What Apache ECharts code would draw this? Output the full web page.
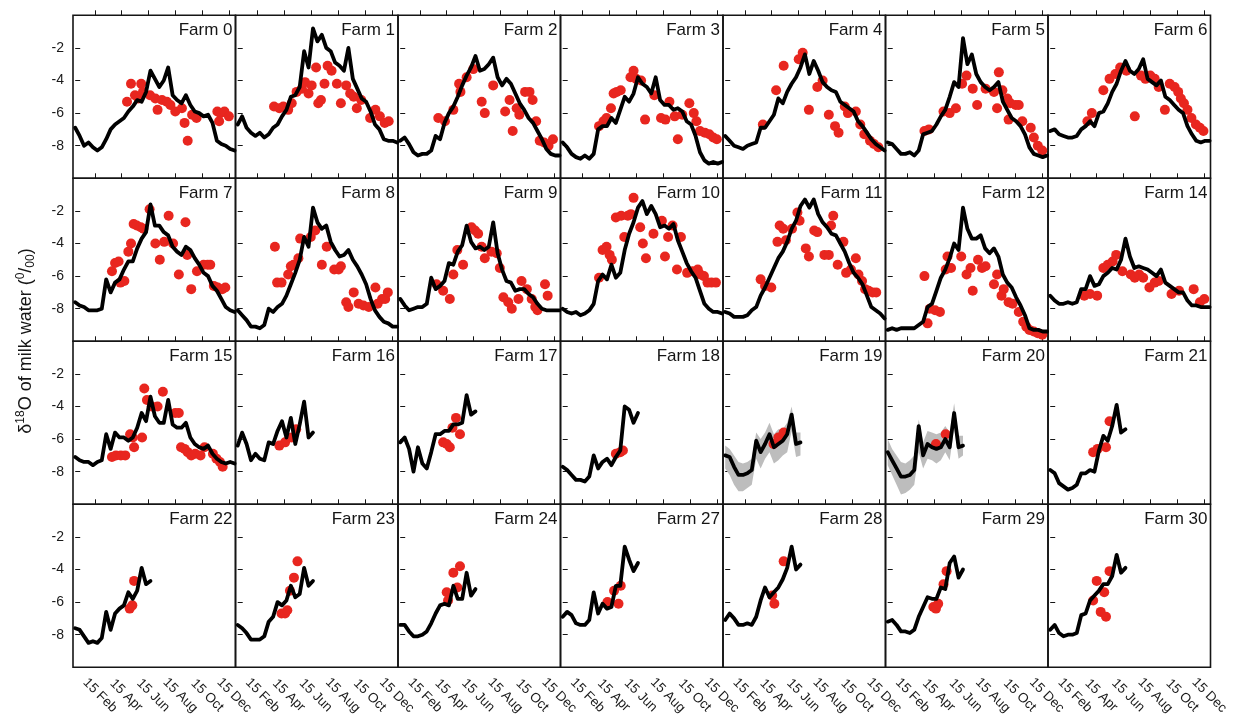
<!DOCTYPE html>
<html>
<head>
<meta charset="utf-8">
<script src="https://cdn.jsdelivr.net/npm/echarts@6/dist/echarts.min.js"></script>
<style>html,body{margin:0;padding:0;background:#fff}#chart{width:1234px;height:722px}</style>
</head>
<body>
<div id="chart"></div>
<script>
// Sample days (days since 1 Jan) of the modelled milk-water series
const lineDays = [0,10,20,30,40,50,60,70,80,90,100,110,120,130,140,150,160,170,180,190,200,210,220,230,240,250,260,270,280,290,300,310,320,330,340,350,360];
const tickDays = [45,104,165,226,287,348];
const tickLabels = ['15 Feb','15 Apr','15 Jun','15 Aug','15 Oct','15 Dec'];
const yTicks = [-8,-6,-4,-2];
const farmNames = ['Farm 0','Farm 1','Farm 2','Farm 3','Farm 4','Farm 5','Farm 6',
  'Farm 7','Farm 8','Farm 9','Farm 10','Farm 11','Farm 12','Farm 14',
  'Farm 15','Farm 16','Farm 17','Farm 18','Farm 19','Farm 20','Farm 21',
  'Farm 22','Farm 23','Farm 24','Farm 27','Farm 28','Farm 29','Farm 30'];

// modelled δ18O (black lines), values on lineDays
const f0Line = [-6.9,-7.4,-8.0,-7.8,-8.1,-8.3,-8.1,-7.6,-7.0,-6.7,-6.5,-6.3,-5.9,-5.6,-5.2,-5.3,-4.7,-3.4,-3.9,-4.4,-4.0,-3.2,-4.9,-5.2,-5.4,-4.9,-5.5,-5.9,-6.0,-6.2,-6.1,-6.6,-7.7,-7.9,-8.0,-8.2,-8.3];
const f1Line = [-6.7,-6.2,-6.9,-7.2,-7.4,-7.2,-7.5,-7.3,-6.9,-6.7,-6.2,-5.8,-5.0,-4.9,-4.4,-2.2,-3.2,-0.8,-1.6,-1.2,-2.0,-2.2,-2.9,-3.1,-3.4,-2.0,-3.9,-4.5,-5.1,-5.3,-5.9,-6.7,-7.0,-7.6,-7.7,-7.7,-7.8];
const f2Line = [-7.7,-7.5,-7.9,-8.4,-8.6,-8.5,-8.5,-8.3,-7.4,-7.6,-6.6,-6.0,-5.6,-5.0,-4.3,-3.7,-3.2,-2.5,-3.4,-3.3,-3.0,-2.6,-3.8,-4.3,-3.9,-4.2,-4.8,-5.4,-5.8,-6.3,-6.6,-7.1,-7.6,-8.2,-8.5,-8.6,-8.6];
const f3Line = [-7.8,-8.1,-8.5,-8.7,-8.8,-8.6,-8.8,-8.5,-7.0,-6.8,-6.8,-6.3,-6.6,-5.8,-5.0,-5.3,-4.8,-3.8,-4.2,-4.4,-4.8,-3.8,-5.2,-5.5,-5.5,-5.8,-5.7,-5.9,-6.5,-6.7,-7.4,-8.4,-8.9,-9.1,-9.0,-9.1,-9.0];
const f4Line = [-7.4,-7.7,-8.0,-8.1,-8.2,-8.0,-7.9,-7.8,-6.9,-6.9,-6.5,-6.1,-5.1,-5.4,-4.7,-4.2,-3.8,-3.2,-2.4,-3.6,-2.8,-3.4,-4.1,-4.4,-4.6,-4.7,-5.3,-5.5,-5.7,-5.9,-6.5,-6.8,-7.2,-7.6,-7.9,-8.1,-8.3];
const f5Line = [-7.8,-7.9,-8.2,-8.5,-8.5,-8.4,-8.6,-8.3,-7.3,-7.2,-7.1,-6.7,-6.2,-5.8,-5.0,-4.1,-4.4,-1.4,-3.0,-2.4,-3.6,-4.1,-4.4,-4.6,-4.4,-4.1,-5.3,-5.8,-6.3,-6.5,-6.8,-7.3,-8.1,-8.5,-8.6,-8.7,-8.6];
const f6Line = [-7.1,-7.0,-7.3,-7.4,-7.5,-7.5,-7.4,-7.0,-6.8,-6.5,-6.8,-6.0,-5.9,-5.4,-4.7,-4.2,-3.4,-2.8,-3.4,-3.6,-3.3,-2.7,-3.9,-4.1,-4.3,-4.0,-5.0,-5.2,-5.5,-5.8,-6.0,-6.8,-7.3,-7.7,-7.8,-7.7,-7.7];
const f7Line = [-7.6,-7.8,-7.9,-8.1,-8.1,-8.1,-8.0,-6.2,-7.0,-6.4,-6.2,-5.6,-5.1,-5.1,-4.3,-3.7,-3.3,-1.6,-2.9,-2.9,-3.3,-3.5,-4.2,-4.5,-4.7,-4.2,-4.4,-4.9,-5.3,-5.8,-6.0,-6.6,-6.9,-7.4,-7.9,-8.1,-8.2];
const f8Line = [-8.1,-8.4,-8.7,-9.1,-9.1,-9.2,-9.0,-8.0,-8.2,-7.9,-7.7,-7.2,-6.5,-5.8,-5.0,-3.6,-4.2,-1.8,-2.7,-3.1,-2.9,-3.9,-4.4,-4.8,-4.7,-4.4,-5.0,-5.4,-5.9,-6.5,-7.4,-8.1,-8.5,-8.8,-8.9,-9.1,-9.1];
const f9Line = [-7.4,-7.8,-8.1,-8.0,-7.9,-7.9,-7.7,-6.1,-6.8,-6.6,-6.3,-5.2,-5.3,-4.5,-4.1,-2.9,-3.9,-4.3,-4.2,-4.4,-4.2,-2.7,-4.6,-5.6,-6.3,-6.4,-6.9,-6.8,-6.8,-7.1,-7.3,-7.7,-8.0,-8.1,-8.1,-8.1,-8.1];
const f10Line = [-8.0,-8.2,-8.3,-8.2,-8.4,-8.3,-8.1,-7.7,-6.3,-5.9,-6.2,-5.3,-6.1,-5.8,-4.4,-3.4,-2.7,-1.8,-1.4,-2.2,-1.7,-2.2,-3.0,-2.9,-3.1,-2.8,-3.8,-4.5,-5.2,-5.7,-6.1,-6.9,-7.7,-8.0,-8.2,-8.2,-8.3];
const f11Line = [-8.2,-8.3,-8.5,-8.5,-8.5,-8.4,-8.1,-7.9,-7.2,-6.7,-6.1,-5.5,-4.9,-4.5,-3.9,-3.1,-2.6,-1.7,-1.3,-1.8,-1.3,-2.2,-2.7,-3.0,-3.4,-3.5,-4.0,-4.5,-5.2,-5.8,-6.1,-6.5,-7.2,-7.9,-8.1,-8.3,-8.6];
const f12Line = [-9.3,-9.2,-9.3,-9.2,-9.2,-9.2,-9.2,-9.0,-8.8,-7.9,-7.7,-6.9,-6.1,-5.6,-4.9,-4.0,-4.4,-1.8,-3.1,-3.7,-3.7,-3.5,-4.3,-4.6,-4.3,-4.8,-5.9,-6.4,-6.7,-7.3,-7.8,-8.4,-9.2,-9.3,-9.3,-9.4,-9.4];
const f14Line = [-7.2,-7.5,-7.7,-7.7,-7.6,-7.7,-7.6,-6.8,-6.8,-6.0,-6.6,-6.5,-6.0,-5.8,-5.5,-5.6,-5.0,-3.7,-4.8,-5.5,-5.4,-5.5,-5.6,-5.8,-6.0,-5.6,-6.4,-6.6,-6.8,-7.0,-7.0,-7.5,-7.8,-7.8,-7.9,-7.9,-7.9];
const f15Line = [-7.1,-7.3,-7.4,-7.4,-7.6,-7.4,-7.3,-5.7,-6.6,-5.6,-5.9,-5.9,-6.1,-5.9,-5.3,-4.4,-4.9,-3.4,-4.6,-5.0,-5.0,-3.6,-5.1,-5.3,-5.3,-5.0,-5.9,-6.3,-6.5,-6.6,-6.4,-6.9,-7.2,-7.4,-7.5,-7.4,-7.5];
const f16Line = [-6.4,-5.6,-6.3,-7.3,-6.9,-7.2,-7.3,-6.2,-6.3,-5.5,-4.9,-5.9,-4.7,-6.3,-5.1,-3.7,-5.9,-5.6];
const f17Line = [-6.2,-5.9,-6.6,-8.0,-6.5,-7.5,-7.8,-6.8,-5.7,-5.7,-5.5,-5.5,-5.1,-5.1,-5.0,-3.3,-4.5,-4.3];
const f18Line = [-7.7,-7.9,-8.2,-8.5,-8.5,-8.6,-8.3,-7.0,-7.8,-7.4,-7.2,-7.6,-7.1,-6.7,-4.0,-4.2,-5.0,-4.4];
const f19Line = [-7.0,-7.1,-7.7,-8.2,-8.2,-8.1,-7.9,-6.1,-6.8,-6.3,-5.7,-6.5,-6.3,-6.1,-5.7,-4.5,-6.3,-6.2];
const f20Line = [-6.8,-7.3,-7.8,-8.3,-8.3,-8.2,-7.9,-5.2,-7.0,-6.3,-6.5,-6.6,-6.5,-6.0,-6.5,-4.4,-6.5,-6.4];
const f21Line = [-7.9,-8.1,-8.7,-8.9,-9.1,-9.0,-8.8,-8.1,-8.1,-7.9,-8.0,-6.7,-5.8,-6.1,-5.2,-3.9,-5.6,-5.4];
const f22Line = [-7.6,-7.7,-8.1,-8.5,-8.4,-8.5,-8.2,-6.6,-7.7,-6.7,-6.4,-6.2,-5.4,-5.8,-5.3,-3.9,-4.9,-4.7];
const f23Line = [-7.4,-7.6,-7.9,-8.3,-8.3,-8.3,-8.1,-7.2,-6.9,-6.0,-6.2,-5.9,-5.0,-5.7,-5.5,-3.9,-5.0,-4.7];
const f24Line = [-7.4,-7.4,-7.8,-8.1,-8.1,-8.0,-7.8,-7.3,-6.7,-6.2,-6.1,-6.2,-5.0,-5.8,-5.8,-4.2,-5.6,-5.2];
const f27Line = [-6.9,-6.6,-6.8,-7.3,-7.4,-7.4,-7.1,-5.4,-6.7,-6.1,-6.4,-6.3,-5.0,-5.0,-2.6,-3.4,-4.1,-3.6];
const f28Line = [-7.1,-6.7,-7.0,-7.4,-7.4,-7.3,-7.4,-6.9,-5.9,-5.1,-5.7,-5.4,-5.1,-4.6,-3.9,-2.6,-4.0,-3.7];
const f29Line = [-7.2,-7.1,-7.4,-7.8,-7.8,-7.9,-7.7,-6.9,-6.3,-5.7,-5.8,-5.8,-5.1,-5.2,-3.6,-3.2,-4.5,-4.0];
const f30Line = [-7.7,-7.4,-7.9,-8.1,-8.0,-8.0,-7.9,-6.8,-6.7,-5.9,-5.6,-5.3,-4.9,-4.9,-4.4,-3.1,-4.2,-3.9];

// uncertainty band (grey) for farms 19 and 20
const f19Upper = [-6.4,-6.6,-7.0,-7.4,-7.5,-7.4,-7.2,-5.6,-6.0,-5.6,-5.0,-5.7,-5.4,-5.4,-5.0,-4.0,-5.6,-5.6];
const f19Lower = [-7.8,-8.2,-8.8,-9.2,-9.2,-9.0,-8.8,-7.2,-7.8,-7.2,-6.8,-7.5,-7.3,-7.0,-6.8,-5.5,-7.1,-7.0];
const f20Upper = [-6.0,-6.6,-7.0,-7.4,-7.5,-7.3,-7.0,-4.8,-6.2,-5.5,-5.6,-5.7,-5.6,-5.2,-5.6,-3.8,-5.8,-5.8];
const f20Lower = [-7.6,-8.2,-8.8,-9.4,-9.3,-9.1,-8.8,-6.8,-7.8,-7.2,-7.3,-7.5,-7.3,-6.8,-7.3,-5.3,-7.2,-7.0];

// measured δ18O (red dots): [day, value]
const f0Dots = [[126,-4.2],[149,-4.2],[117,-5.3],[135,-4.9],[143,-5.1],[153,-4.7],[169,-4.9],[181,-5.1],[186,-5.8],[196,-5.2],[207,-5.3],[215,-5.5],[226,-5.9],[241,-5.7],[247,-6.6],[254,-7.7],[264,-6.1],[274,-6.3],[321,-5.9],[328,-6.0],[337,-5.9],[347,-6.2],[325,-6.5]];
const f1Dots = [[82,-5.6],[94,-5.7],[103,-5.6],[114,-5.8],[122,-5.4],[133,-4.7],[145,-4.5],[152,-4.1],[160,-4.8],[167,-4.3],[177,-3.2],[182,-5.4],[188,-5.2],[196,-4.2],[203,-3.1],[212,-3.4],[224,-4.2],[233,-5.4],[245,-4.3],[254,-4.8],[262,-5.0],[269,-5.7],[279,-5.2],[299,-6.3],[311,-5.8],[321,-6.2],[332,-6.6],[341,-6.5]];
const f2Dots = [[86,-6.3],[101,-6.5],[120,-5.8],[133,-4.2],[136,-4.7],[150,-3.8],[165,-3.3],[184,-5.3],[191,-6.0],[210,-4.3],[237,-5.9],[247,-5.2],[254,-7.1],[263,-5.7],[269,-6.1],[282,-4.7],[292,-4.7],[299,-5.2],[307,-6.5],[315,-7.7],[325,-7.8],[335,-8.0],[345,-7.6]];
const f3Dots = [[82,-6.8],[92,-6.5],[99,-6.3],[109,-5.7],[115,-4.8],[122,-4.7],[131,-4.6],[153,-3.8],[160,-3.4],[166,-3.9],[177,-4.0],[186,-6.4],[207,-4.9],[222,-6.3],[232,-6.4],[241,-5.3],[253,-6.2],[260,-7.6],[270,-6.1],[286,-5.4],[296,-6.0],[302,-6.5],[310,-7.1],[321,-7.2],[331,-7.3],[340,-7.5],[348,-7.6]];
const f4Dots = [[85,-6.7],[115,-4.6],[132,-3.1],[166,-2.7],[175,-2.3],[189,-5.8],[208,-4.4],[220,-4.0],[234,-6.1],[248,-6.8],[256,-7.2],[270,-5.6],[277,-6.0],[295,-5.9],[305,-6.7],[314,-7.3],[327,-7.7],[336,-7.9],[346,-8.1]];
const f5Dots = [[83,-7.1],[93,-7.0],[126,-5.9],[140,-6.0],[154,-5.7],[168,-4.2],[178,-3.7],[192,-4.5],[202,-5.5],[221,-4.5],[240,-4.7],[247,-5.7],[251,-3.5],[259,-4.6],[270,-5.1],[277,-5.4],[273,-6.4],[289,-5.5],[296,-5.5],[304,-6.5],[323,-6.9],[330,-7.5],[339,-8.0],[349,-8.3]];
const f6Dots = [[84,-6.5],[94,-6.0],[120,-4.6],[134,-3.9],[147,-3.6],[158,-3.2],[172,-3.4],[191,-6.2],[205,-3.7],[215,-3.9],[226,-3.7],[236,-3.9],[245,-4.4],[259,-5.8],[270,-4.2],[281,-4.4],[289,-4.7],[295,-5.1],[302,-5.4],[310,-5.8],[319,-6.3],[329,-6.7],[338,-6.9],[346,-7.1]];
const f7Dots = [[83,-5.7],[90,-5.2],[98,-5.1],[102,-6.4],[111,-6.3],[120,-4.5],[126,-4.0],[132,-2.8],[139,-2.9],[148,-3.0],[154,-3.1],[168,-1.9],[181,-4.0],[191,-5.0],[201,-3.9],[211,-2.3],[221,-4.0],[234,-5.9],[249,-2.7],[253,-4.7],[262,-6.8],[275,-5.7],[290,-5.3],[299,-5.3],[305,-5.3],[313,-6.6],[322,-6.7],[332,-6.8],[339,-6.7]];
const f8Dots = [[84,-4.2],[89,-6.4],[99,-6.4],[114,-5.9],[120,-5.4],[126,-5.3],[137,-4.9],[141,-3.7],[165,-3.6],[175,-3.2],[190,-5.3],[201,-4.2],[218,-5.6],[228,-5.6],[233,-5.4],[245,-7.6],[250,-7.9],[262,-7.0],[273,-7.7],[284,-7.8],[296,-7.9],[311,-6.7],[316,-7.7],[326,-7.4],[333,-7.4],[339,-7.0]];
const f9Dots = [[82,-6.5],[97,-6.9],[112,-7.4],[120,-5.9],[129,-4.4],[142,-5.3],[161,-3.0],[169,-3.2],[176,-3.4],[184,-4.2],[191,-4.9],[206,-4.5],[218,-4.6],[225,-5.5],[233,-7.3],[244,-7.6],[252,-8.0],[267,-7.4],[274,-6.3],[286,-6.8],[297,-7.4],[305,-7.9],[310,-8.1],[327,-6.5],[333,-7.2]];
const f10Dots = [[82,-6.1],[90,-4.4],[99,-4.2],[106,-4.7],[111,-5.0],[120,-2.4],[132,-2.3],[139,-3.6],[147,-2.3],[154,-2.2],[160,-1.2],[175,-3.0],[181,-4.0],[188,-4.9],[205,-3.4],[224,-2.6],[231,-4.8],[238,-3.6],[248,-2.9],[258,-5.6],[267,-3.6],[281,-5.8],[293,-5.7],[305,-5.6],[311,-5.9],[319,-6.0],[327,-6.4],[336,-6.4],[346,-6.4]];
const f11Dots = [[80,-6.2],[90,-6.6],[104,-6.7],[118,-3.9],[123,-2.9],[131,-3.1],[137,-3.8],[151,-3.1],[163,-2.1],[168,-2.6],[182,-4.3],[189,-4.8],[201,-3.2],[208,-3.3],[224,-4.7],[234,-4.7],[239,-2.9],[244,-2.3],[254,-5.3],[267,-3.9],[273,-5.8],[284,-5.6],[295,-4.9],[301,-5.9],[309,-6.3],[316,-6.8],[324,-6.9],[333,-7.0],[341,-7.0]];
const f12Dots = [[83,-6.0],[90,-8.9],[95,-8.0],[107,-8.1],[118,-8.2],[131,-5.6],[135,-4.8],[143,-5.5],[166,-4.8],[178,-5.9],[187,-5.5],[192,-6.9],[204,-5.0],[213,-5.5],[221,-5.4],[240,-6.5],[247,-5.9],[257,-7.2],[262,-6.8],[273,-7.6],[282,-7.7],[296,-8.2],[306,-8.8],[313,-9.1],[320,-9.3],[330,-9.4],[339,-9.5],[349,-9.6]];
const f14Dots = [[77,-7.2],[90,-7.1],[106,-7.2],[120,-5.5],[130,-5.3],[141,-5.1],[149,-4.7],[163,-5.7],[182,-5.9],[191,-6.1],[201,-5.9],[210,-6.1],[224,-6.7],[236,-6.4],[245,-6.3],[274,-7.1],[291,-6.9],[324,-6.8],[338,-7.6],[348,-7.4]];
const f15Dots = [[83,-7.1],[92,-7.0],[103,-7.0],[113,-7.0],[124,-5.7],[130,-5.9],[133,-6.5],[151,-5.9],[156,-2.9],[162,-3.6],[173,-4.0],[186,-4.0],[198,-3.1],[226,-4.4],[234,-4.4],[239,-6.5],[247,-6.6],[254,-6.8],[262,-7.0],[271,-6.9],[283,-7.0],[292,-6.5],[311,-6.9],[319,-7.2],[327,-7.4],[333,-7.7]];
const f16Dots = [[94,-6.4],[107,-6.2],[122,-5.9],[132,-5.4]];
const f17Dots = [[97,-6.2],[105,-6.3],[112,-6.5],[118,-5.3],[126,-4.7],[135,-5.7]];
const f18Dots = [[120,-6.9],[130,-6.8],[136,-6.7]];
const f19Dots = [[109,-6.3],[120,-5.9],[132,-5.6]];
const f20Dots = [[109,-6.3],[131,-5.7]];
const f21Dots = [[97,-6.8],[107,-6.6],[126,-6.5],[134,-4.9]];
const f22Dots = [[123,-6.4],[129,-6.2],[133,-4.7]];
const f23Dots = [[99,-6.7],[107,-6.7],[112,-6.5],[118,-5.3],[127,-4.5],[135,-3.5]];
const f24Dots = [[105,-5.4],[108,-5.9],[120,-4.2],[129,-5.1],[135,-3.8]];
const f27Dots = [[101,-6.0],[116,-5.3],[126,-6.1],[131,-5.0]];
const f28Dots = [[106,-5.6],[111,-6.1],[132,-3.5]];
const f29Dots = [[103,-6.3],[109,-6.4],[114,-6.1],[126,-4.9],[133,-4.1]];
const f30Dots = [[97,-5.9],[105,-4.7],[114,-6.6],[126,-6.9],[122,-5.4],[134,-4.1]];

const farmLines = [f0Line,f1Line,f2Line,f3Line,f4Line,f5Line,f6Line,f7Line,f8Line,f9Line,f10Line,f11Line,f12Line,f14Line,
  f15Line,f16Line,f17Line,f18Line,f19Line,f20Line,f21Line,f22Line,f23Line,f24Line,f27Line,f28Line,f29Line,f30Line];
const farmDots = [f0Dots,f1Dots,f2Dots,f3Dots,f4Dots,f5Dots,f6Dots,f7Dots,f8Dots,f9Dots,f10Dots,f11Dots,f12Dots,f14Dots,
  f15Dots,f16Dots,f17Dots,f18Dots,f19Dots,f20Dots,f21Dots,f22Dots,f23Dots,f24Dots,f27Dots,f28Dots,f29Dots,f30Dots];
const farmBands = {18: [f19Lower, f19Upper], 19: [f20Lower, f20Upper]};

const FONT = '"Liberation Sans", Arial, Helvetica, sans-serif';
const PW = 162.5, PH = 163, L0 = 73, T0 = 15.3, CW = 1234;

const grids = [], xAxes = [], yAxes = [], titles = [], series = [];
farmLines.forEach((vals, i) => {
  const r = Math.floor(i / 7), c = i % 7;
  const left = L0 + c * PW, top = T0 + r * PH;
  grids.push({left: left, top: top, width: PW, height: PH, show: true, borderColor: '#151515', borderWidth: 1.6,
    backgroundColor: 'transparent', containLabel: false, outerBoundsMode: 'none'});
  xAxes.push({gridIndex: i, type: 'value', min: -5, max: 362,
    splitLine: {show: false}, axisLine: {show: false},
    axisTick: {show: true, inside: true, length: 5, customValues: tickDays, lineStyle: {color: '#151515', width: 1}},
    axisLabel: {show: r === 3, customValues: tickDays, formatter: v => tickLabels[tickDays.indexOf(v)],
      rotate: -45, align: 'center', verticalAlign: 'bottom', margin: 33, fontSize: 13.5, color: '#1a1a1a', fontFamily: FONT}});
  yAxes.push({gridIndex: i, type: 'value', min: -10, max: 0, interval: 2,
    splitLine: {show: false}, axisLine: {show: false},
    axisTick: {show: true, inside: true, length: 5, customValues: yTicks, lineStyle: {color: '#151515', width: 1}},
    axisLabel: {show: c === 0, customValues: yTicks, fontSize: 14, margin: 9, color: '#1a1a1a', fontFamily: FONT}});
  titles.push({text: farmNames[i], right: CW - (left + PW - 3), top: top + 7, padding: 0,
    textStyle: {fontSize: 17, fontWeight: 'normal', color: '#151515', fontFamily: FONT}});
  if (farmBands[i]) {
    const lower = farmBands[i][0], upper = farmBands[i][1];
    series.push({type: 'custom', xAxisIndex: i, yAxisIndex: i, silent: true, z: 1,
      data: lower.map((v, j) => [lineDays[j], v, upper[j]]),
      encode: {x: 0, y: [1, 2]},
      renderItem: function (params, api) {
        if (params.dataIndex !== 0) return null;
        const pts = [];
        for (let j = 0; j < upper.length; j++) pts.push(api.coord([lineDays[j], upper[j]]));
        for (let j = lower.length - 1; j >= 0; j--) pts.push(api.coord([lineDays[j], lower[j]]));
        return {type: 'polygon', shape: {points: pts}, style: {fill: '#bdbdbd'}};
      }
    });
  }
  series.push({type: 'scatter', xAxisIndex: i, yAxisIndex: i, data: farmDots[i], symbolSize: 10,
    itemStyle: {color: '#e8261f', opacity: 1}, silent: true, z: 3});
  series.push({type: 'line', xAxisIndex: i, yAxisIndex: i, data: vals.map((v, j) => [lineDays[j], v]),
    symbol: 'none', showSymbol: false, lineStyle: {color: '#000', width: 3.8, join: 'round', cap: 'round'}, silent: true, z: 4});
});

const chart = echarts.init(document.getElementById('chart'), null, {renderer: 'canvas'});
chart.setOption({
  animation: false,
  backgroundColor: '#ffffff',
  title: titles,
  grid: grids,
  xAxis: xAxes,
  yAxis: yAxes,
  series: series,
  graphic: [{
    type: 'text', x: 26, y: 341, rotation: Math.PI / 2, silent: true,
    style: {
      text: 'δ{sup|18}O of milk water ({sup|0}/{sub|00})',
      fontSize: 18, fontFamily: FONT, fill: '#151515', align: 'center', verticalAlign: 'middle', lineHeight: 22,
      rich: {
        sup: {fontSize: 12, fontFamily: FONT, fill: '#151515', verticalAlign: 'top', lineHeight: 22},
        sub: {fontSize: 12, fontFamily: FONT, fill: '#151515', verticalAlign: 'bottom', lineHeight: 22}
      }
    }
  }]
});
</script>
</body>
</html>
